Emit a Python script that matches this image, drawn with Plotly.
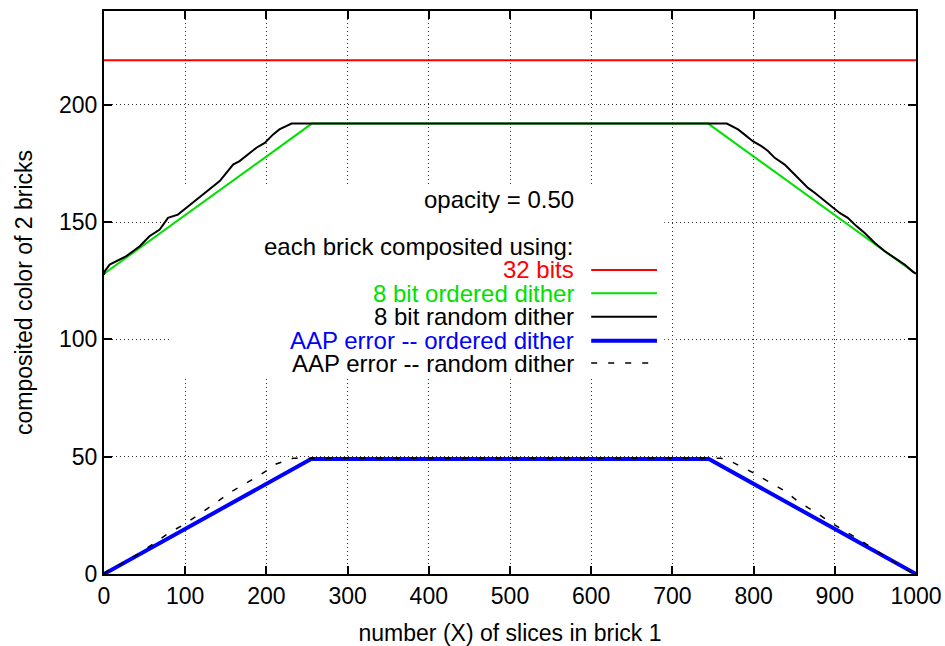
import plotly.graph_objects as go

# ---- data ----
red_x = [0, 1000]
red_y = [219, 219]

green_x = [0, 256, 744, 1000]
green_y = [128, 192, 192, 128]

rand_x = [0, 1, 7, 19, 27.5, 35.7, 44, 56, 68.6, 78.8, 91, 101.5, 113.8, 126, 134,
          142.5, 150.7, 159, 167, 175, 187.7, 198, 208, 216, 224.6, 231,
          767, 772.7, 780.8, 789, 799, 809.6, 817.7, 826, 838.3, 846.5, 856.8, 867,
          875.2, 885.5, 895.8, 906, 916, 926.6, 936.8, 949, 961.5, 973.8, 986, 996.3, 1000]
rand_y = [127.5, 129.1, 131.9, 134.0, 135.5, 137.6, 139.7, 144.0, 146.8, 151.8, 153.2,
          156.1, 159.6, 163.2, 165.3, 167.5, 171.0, 174.5, 176.0, 178.1, 181.7, 183.8,
          187.3, 189.5, 190.9, 192,
          192, 190.9, 189.5, 187.3, 184.5, 182.4, 180.3, 177.4, 174.5, 171.7, 168.1,
          164.6, 162.5, 159.6, 156.8, 153.9, 151.8, 148.3, 145.4, 141.2, 137.6, 134.8,
          131.9, 128.8, 128]

blue_x = [0, 255, 745, 1000]
blue_y = [0, 49, 49, 0]

dash_x = [0, 3, 21.4, 40, 60, 79, 99.4, 118, 136, 155, 173, 194, 212, 233,
          760, 768.5, 797, 818, 838, 856.8, 875, 893.7, 912, 932.7, 951, 969.7, 992, 1000]
dash_y = [0, 1.0, 4.3, 8.1, 12.7, 17.3, 21.3, 25.6, 29.9, 34.7, 38.4, 42.6, 46.9, 49.3,
          49.3, 48.6, 43.6, 39.4, 35.5, 30.4, 26.6, 22.3, 18.3, 14.2, 9.9, 6.0, 1.0, 0]

x_ticks = [0, 100, 200, 300, 400, 500, 600, 700, 800, 900, 1000]
y_ticks = [0, 50, 100, 150, 200]

labels = ["32 bits", "8 bit ordered dither", "8 bit random dither",
          "AAP error -- ordered dither", "AAP error -- random dither"]
colors = ["#ff0000", "#00e000", "#000000", "#0000ff", "#000000"]
text_colors = ["#ff0000", "#00e000", "#000000", "#0000ff", "#000000"]
widths = [2, 2, 2, 4, 1.5]
dashes = ["solid", "solid", "solid", "solid", "6px,11px"]

FONT = "Liberation Sans, Arial, Helvetica, sans-serif"
FS = 24

fig = go.Figure()
series = [(red_x, red_y), (green_x, green_y), (rand_x, rand_y), (blue_x, blue_y), (dash_x, dash_y)]
for (xs, ys), name, c, w, d in zip(series, labels, colors, widths, dashes):
    fig.add_trace(go.Scatter(x=xs, y=ys, mode="lines", name=name,
                             line=dict(color=c, width=w, dash=d), showlegend=False))

# key area blanks the grid (as gnuplot does)
fig.add_shape(type="rect", xref="x", yref="y", x0=81, x1=690, y0=84, y1=165,
              fillcolor="white", line=dict(width=0), layer="between")

# key texts
fig.add_annotation(x=581, y=159.5, xref="x", yref="y", text="opacity = 0.50",
                   showarrow=False, xanchor="right", yanchor="middle",
                   font=dict(family=FONT, size=FS, color="black"))
fig.add_annotation(x=581, y=139.6, xref="x", yref="y", text="each brick composited using:",
                   showarrow=False, xanchor="right", yanchor="middle",
                   font=dict(family=FONT, size=FS, color="black"))
row_y = [129.6, 119.7, 109.7, 99.4, 89.9]
for ry, name, c, tc, w, d in zip(row_y, labels, colors, text_colors, widths, dashes):
    fig.add_annotation(x=581, y=ry, xref="x", yref="y", text=name, showarrow=False,
                       xanchor="right", yanchor="middle",
                       font=dict(family=FONT, size=FS, color=tc))
    fig.add_shape(type="line", xref="x", yref="y", x0=600, x1=681, y0=ry, y1=ry,
                  line=dict(color=c, width=w, dash=d), layer="above")

axis_common = dict(showline=True, linecolor="black", linewidth=2, mirror="allticks",
                   ticks="inside", ticklen=8, tickwidth=1.5, tickcolor="black",
                   showgrid=True, gridcolor="#333333", gridwidth=1, griddash="1px,3px",
                   zeroline=False, automargin=False,
                   tickfont=dict(family=FONT, size=FS - 1, color="black"))

fig.update_xaxes(range=[0, 1000], tickvals=x_ticks, ticktext=[str(v) for v in x_ticks],
                 title=dict(text="number (X) of slices in brick 1",
                            font=dict(family=FONT, size=FS - 1, color="black"), standoff=18),
                 **axis_common)
fig.update_yaxes(range=[0, 240], tickvals=y_ticks, ticktext=[str(v) for v in y_ticks],
                 title=dict(text="composited color of 2 bricks",
                            font=dict(family=FONT, size=FS - 1, color="black"), standoff=20),
                 **axis_common)

fig.update_layout(width=945, height=646, margin=dict(l=104, r=29, t=11, b=72),
                  paper_bgcolor="white", plot_bgcolor="white", showlegend=False,
                  font=dict(family=FONT, color="black"))

fig.write_html("out.html")
